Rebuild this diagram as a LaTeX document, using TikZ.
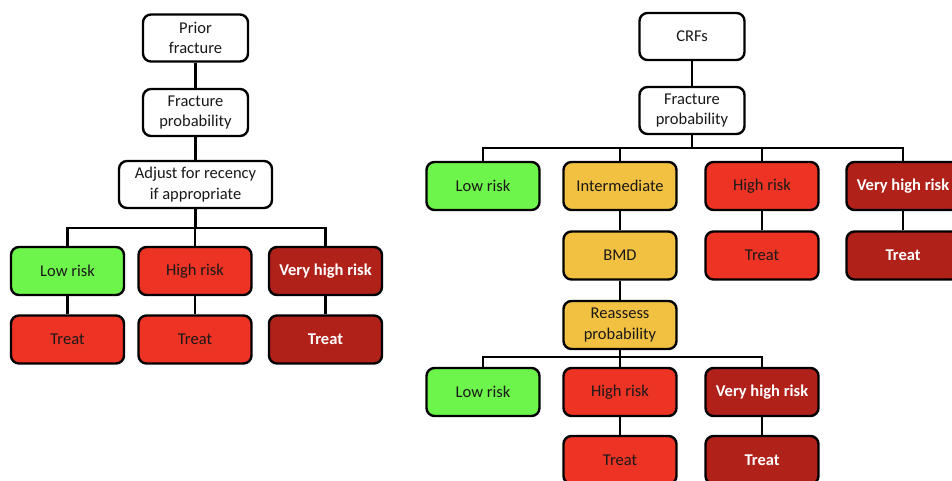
\documentclass[tikz,border=0pt]{standalone}
\usepackage{fontspec}
\setmainfont{Carlito}
\definecolor{lowg}{RGB}{110,245,75}
\definecolor{midy}{RGB}{243,193,66}
\definecolor{hired}{RGB}{236,51,36}
\definecolor{vhred}{RGB}{176,33,26}
\begin{document}
\begin{tikzpicture}[x=1pt,y=-1pt,
  box/.style={draw=black,line width=2.4pt,rounded corners=8pt,align=center,inner sep=0pt,
    font=\fontsize{16.5}{20.5}\selectfont,text=black!90},
  wbox/.style={box,fill=white,minimum width=105pt,minimum height=47pt},
  rbox/.style={box,minimum width=113pt,minimum height=48pt},
  lowb/.style={rbox,fill=lowg},
  midb/.style={rbox,fill=midy},
  hib/.style={rbox,fill=hired},
  vhb/.style={rbox,fill=vhred,text=white,font=\fontsize{16.5}{20.5}\selectfont\bfseries},
  conn/.style={line width=2.3pt,black}]
\clip (0,0) rectangle (952,480);
\fill[white] (0,0) rectangle (952,480);
% ---------- left tree ----------
\node[wbox] (pf) at (195.5,38) {Prior\\fracture};
\node[wbox] (fpl) at (195.5,112.5) {Fracture\\probability};
\node[wbox,minimum width=153pt] (adj) at (195.5,184.5) {Adjust for recency\\if appropriate};
\node[lowb] (l1) at (67.5,271) {Low risk};
\node[hib] (l2) at (195,271) {High risk};
\node[vhb] (l3) at (325.5,271) {Very high risk};
\node[hib] (t1) at (67.5,339.5) {Treat};
\node[hib] (t2) at (195,339.5) {Treat};
\node[vhb] (t3) at (325.5,339.5) {Treat};
\coordinate (barL) at (0,228);
\draw[conn] (pf) -- (fpl);
\draw[conn] (fpl) -- (adj);
\draw[conn] (adj.south) -- (adj.south |- barL);
\draw[conn] (l1.north) -- (l1.north |- barL) -| (l3.north);
\draw[conn] (l2.north) -- (l2.north |- barL);
\draw[conn] (l1) -- (t1);
\draw[conn] (l2) -- (t2);
\draw[conn] (l3) -- (t3);
% ---------- right tree ----------
\node[wbox] (crf) at (692,36.5) {CRFs};
\node[wbox] (fpr) at (692,110.5) {Fracture\\probability};
\node[lowb] (r1) at (483,186) {Low risk};
\node[midb] (r2) at (620,186) {Intermediate};
\node[hib] (r3) at (762,186) {High risk};
\node[vhb] (r4) at (903,186) {Very high risk};
\node[midb] (bmd) at (620,255.5) {BMD};
\node[hib] (rt3) at (762,255.5) {Treat};
\node[vhb] (rt4) at (903,255.5) {Treat};
\node[midb] (re) at (620,325) {Reassess\\probability};
\node[lowb] (s1) at (483,392) {Low risk};
\node[hib] (s2) at (620,392) {High risk};
\node[vhb] (s3) at (762,392) {Very high risk};
\node[hib] (st2) at (620,460) {Treat};
\node[vhb] (st3) at (762,460) {Treat};
\coordinate (barR) at (0,148);
\coordinate (barS) at (0,357);
\draw[conn] (crf) -- (fpr);
\draw[conn] (fpr.south) -- (fpr.south |- barR);
\draw[conn] (r1.north) -- (r1.north |- barR) -| (r4.north);
\draw[conn] (r2.north) -- (r2.north |- barR);
\draw[conn] (r3.north) -- (r3.north |- barR);
\draw[conn] (r2) -- (bmd);
\draw[conn] (r3) -- (rt3);
\draw[conn] (r4) -- (rt4);
\draw[conn] (bmd) -- (re);
\draw[conn] (re.south) -- (re.south |- barS);
\draw[conn] (s1.north) -- (s1.north |- barS) -| (s3.north);
\draw[conn] (s2.north) -- (s2.north |- barS);
\draw[conn] (s2) -- (st2);
\draw[conn] (s3) -- (st3);
\end{tikzpicture}
\end{document}
